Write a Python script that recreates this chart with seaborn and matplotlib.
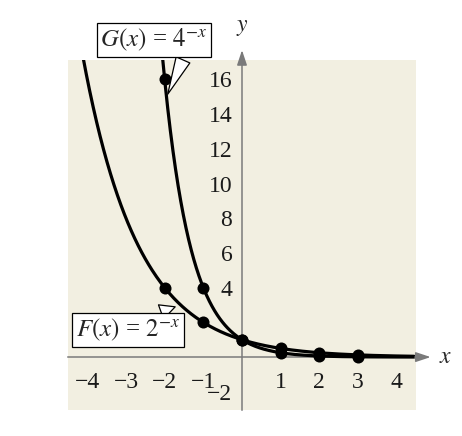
import matplotlib
matplotlib.use('Agg')
import matplotlib.pyplot as plt
import seaborn as sns
import pandas as pd
import numpy as np

# points marked on the curves
x_pts = [-2, -1, 0, 1, 2, 3]
g_pts = [16, 4, 1, 0.25, 0.0625, 0.015625]
f_pts = [4, 2, 1, 0.5, 0.25, 0.125]

x_ticks = [-4, -3, -2, -1, 1, 2, 3, 4]
x_tick_labels = ["\u22124", "\u22123", "\u22122", "\u22121", "1", "2", "3", "4"]
y_ticks = [-2, 2, 4, 6, 8, 10, 12, 14, 16]
y_tick_labels = ["\u22122", "", "4", "6", "8", "10", "12", "14", "16"]

sns.set_style("white")
plt.rcParams['font.family'] = ['Liberation Serif', 'DejaVu Serif']
plt.rcParams['mathtext.fontset'] = 'stix'

fig = plt.figure(figsize=(4.62, 4.36), dpi=100)
W, H = 462, 436
ax = fig.add_axes([68 / W, (H - 410) / H, (416 - 68) / W, (410 - 60) / H])
ax.set_facecolor('#f2efe1')

# smooth curves of the two functions
xs = np.linspace(-4.5, 4.45, 400)
curves = pd.DataFrame({
    "x": np.concatenate([xs, xs]),
    "y": np.concatenate([2.0 ** (-xs), 4.0 ** (-xs)]),
    "fn": ["F"] * len(xs) + ["G"] * len(xs),
})
curves = curves[curves["y"] < 40]
pts = pd.DataFrame({
    "x": x_pts + x_pts,
    "y": f_pts + g_pts,
    "fn": ["F"] * len(x_pts) + ["G"] * len(x_pts),
})

sns.lineplot(data=curves, x="x", y="y", units="fn", estimator=None, color="black",
             linewidth=2.3, sort=False, ax=ax, zorder=3)
sns.scatterplot(data=pts, x="x", y="y", color="black", s=75, edgecolor="black",
                linewidth=0, ax=ax, zorder=4)

ax.set_xlim(-4.5, 4.5)
ax.set_ylim(-3.05, 17.12)
ax.set_xlabel("")
ax.set_ylabel("")

for side in ["top", "right"]:
    ax.spines[side].set_visible(False)
ax.spines["left"].set_position(("data", 0))
ax.spines["bottom"].set_position(("data", 0))
for side in ["left", "bottom"]:
    ax.spines[side].set_color("#7a7a7a")
    ax.spines[side].set_linewidth(1.1)
    ax.spines[side].set_zorder(2)

ax.set_xticks(x_ticks, x_tick_labels)
ax.set_yticks(y_ticks, y_tick_labels)
ax.tick_params(axis="both", direction="inout", length=12, width=1.1, color="#7a7a7a",
               labelsize=17, labelcolor="#1a1a1a", pad=1)
ax.tick_params(axis="x", pad=5)

# arrow heads on the axes
ax.annotate("", xy=(4.95, 0), xytext=(4.4, 0), annotation_clip=False,
            arrowprops=dict(arrowstyle="-|>,head_length=0.9,head_width=0.3",
                            color="#7a7a7a", lw=1.1))
ax.annotate("", xy=(0, 17.85), xytext=(0, 17.0), annotation_clip=False,
            arrowprops=dict(arrowstyle="-|>,head_length=0.9,head_width=0.3",
                            color="#7a7a7a", lw=1.1))
ax.text(5.1, 0, "$x$", fontsize=17, va="center", ha="left")
ax.text(0, 18.4, "$y$", fontsize=17, va="bottom", ha="center")

box = dict(boxstyle="square,pad=0.15", fc="white", ec="black", lw=0.9)
ax.annotate(r"$G(x)$ = $4^{-x}$", xy=(-1.95, 15.0), xytext=(-2.28, 18.27),
            fontsize=18, ha="center", va="center", bbox=box, annotation_clip=False,
            arrowprops=dict(arrowstyle="wedge,tail_width=0.6", fc="white", ec="black",
                            lw=0.9, relpos=(0.8, 0.0)), zorder=6)
ax.annotate(r"$F(x)$ = $2^{-x}$", xy=(-1.66, 2.95), xytext=(-2.95, 1.55),
            fontsize=18, ha="center", va="center", bbox=box,
            arrowprops=dict(arrowstyle="wedge,tail_width=0.6", fc="white", ec="black",
                            lw=0.9, relpos=(0.68, 1.0)), zorder=6)

fig.savefig("out.png", dpi=100)
